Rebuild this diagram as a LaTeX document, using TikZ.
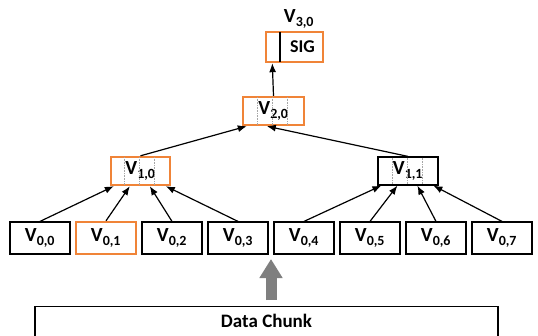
\documentclass[tikz,border=0pt]{standalone}
\usepackage{fontspec}
\setmainfont{Carlito}
\usetikzlibrary{arrows.meta}

\definecolor{hlorange}{RGB}{240,132,56}
\definecolor{feedgray}{RGB}{127,127,127}

\tikzstyle{leaf} = [draw, line width=1.2pt, minimum width=60pt, minimum height=32pt, inner sep=0pt, font=\fontsize{20}{23}\selectfont\bfseries]
\tikzstyle{hash} = [leaf, minimum width=59pt, minimum height=28pt]
\tikzstyle{marked} = [draw=hlorange, line width=2.4pt]
\tikzstyle{plain} = []
\tikzstyle{cell} = [densely dotted, draw=black!35, line width=0.6pt]
\tikzstyle{up} = [-{Latex[length=9pt,width=7pt]}, line width=1.2pt]
\tikzstyle{chunk} = [draw, line width=1.2pt, minimum width=463pt, inner ysep=9pt, text height=12pt, text depth=40pt, font=\fontsize{19}{22}\selectfont\bfseries]
\tikzstyle{feed} = [draw=feedgray, line width=11pt, -{Triangle[width=22pt,length=19pt]}]

\begin{document}
\begin{tikzpicture}[x=1pt, y=1pt]
\useasboundingbox (0,0) rectangle (538,-335);
\clip (0,0) rectangle (538,-335);

% leaves
\foreach \i/\st in {0/plain,1/marked,2/plain,3/plain,4/plain,5/plain,6/plain,7/plain}
    \node[leaf, \st] (v0\i) at (40+66*\i, -238) {V\textsubscript{0,\i}};

% inner hashes
\node[hash, marked] (v10) at (140.5, -171) {V\textsubscript{1,0}};
\node[hash, minimum width=60pt] (v11) at (408, -171) {V\textsubscript{1,1}};
\node[hash, marked, minimum width=61pt] (v20) at (273.5, -111) {V\textsubscript{2,0}};
\foreach \n/\w in {v10/14.75, v11/15, v20/15.25}
    \foreach \k in {1,2,3}
        \draw[cell] ([xshift=\k*\w pt, yshift=-1.2pt]\n.north west) -- ([xshift=\k*\w pt, yshift=1.2pt]\n.south west);

% root with signature
\node[hash, marked, minimum width=57pt, minimum height=30pt] (sig) at (294.5, -47) {};
\draw[line width=1.6pt] ([xshift=15pt, yshift=-1.2pt]sig.north west) -- ([xshift=15pt, yshift=1.2pt]sig.south west);
\node[font=\fontsize{18}{21}\selectfont\bfseries] (sigtext) at ([xshift=8pt]sig.center) {SIG};
\node[font=\fontsize{20}{23}\selectfont\bfseries] (v30) at (299, -19) {V\textsubscript{3,0}};

% edges up the tree
\foreach \i/\dx in {0/4,1/20,2/40,3/56}
    \draw[up] (v0\i.north) -- ([xshift=\dx pt]v10.south west);
\foreach \i/\dx in {4/4,5/20,6/40,7/56}
    \draw[up] (v0\i.north) -- ([xshift=\dx pt]v11.south west);
\draw[up] (v10.north) -- ([xshift=5pt]v20.south west);
\draw[up] (v11.north) -- ([xshift=25pt]v20.south west);
\draw[up] (v20.north) -- ([xshift=7.5pt]sig.south west);

% data chunk feeding the leaves
\node[chunk, anchor=north] (chunk) at (266.5, -306) {Data Chunk};
\draw[feed] ([xshift=4.5pt, yshift=6pt]chunk.north) -- ++(0, 41);
\end{tikzpicture}
\end{document}
